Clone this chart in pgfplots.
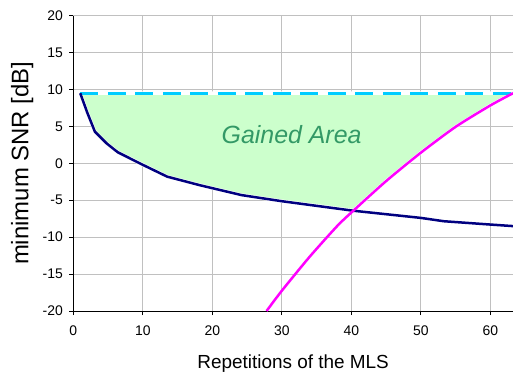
\documentclass[border=0pt]{standalone}
\usepackage{pgfplots}
\pgfplotsset{compat=1.18}
\usepackage{fontspec}
\setmainfont{Liberation Sans}
\definecolor{navyc}{HTML}{000080}
\definecolor{magc}{HTML}{FF00FF}
\definecolor{cyanc}{HTML}{00CCFF}
\definecolor{fillc}{HTML}{CCFFCC}
\definecolor{textg}{HTML}{339966}
\definecolor{gridc}{HTML}{C0C0C0}
\begin{document}
\begin{tikzpicture}
\begin{axis}[name=ax, scale only axis, width=439.7bp, height=295.3bp,
 xmin=0, xmax=63.25, ymin=-20, ymax=20,
 axis x line=bottom, axis y line=left,
 axis line style={-, black, line width=0.8bp},
 xtick={0,10,...,60}, xticklabels={0,10,20,30,40,50,60},
 ytick={-20,-15,...,20}, yticklabels={-20,-15,-10,-5,0,5,10,15,20},
 tick align=outside, tick style={black, line width=0.8bp}, major tick length=4bp,
 grid=major, major grid style={gridc, line width=0.8bp},
 tick label style={font=\fontsize{14}{16}\selectfont},
 xticklabel style={yshift=-7bp},
 yticklabel style={xshift=-3bp},
 xlabel={Repetitions of the MLS}, ylabel={minimum SNR [dB]},
 xlabel style={font=\fontsize{19}{22}\selectfont, at={(axis description cs:0.5,-0.194)}, anchor=base},
 ylabel style={font=\fontsize{24}{28}\selectfont, at={(axis description cs:-0.116,0.5)}, anchor=center},
]
% gained area
\addplot[fill=fillc, draw=white, line width=3.5bp] coordinates {
 (1,9.5) (2,6.9) (3.1,4.3) (4.8,2.7) (6.4,1.5) (10,-0.2) (13.5,-1.8) (18.2,-2.96)
 (24.2,-4.3) (30,-5.13) (40.3,-6.4) (45,-2.4) (50,1.45) (55,4.95)
 (60,7.85) (63.25,9.5)} -- cycle;
% threshold line
\addplot[cyanc, line width=2.7bp, dash pattern=on 18bp off 9.5bp] coordinates {(1,9.48) (63.25,9.48)};
% minimum SNR curve
\addplot[navyc, line width=2.5bp] coordinates {
 (1,9.5) (2,6.9) (3.1,4.3) (4.8,2.7) (6.4,1.5) (10,-0.2) (13.5,-1.8) (18.2,-2.96)
 (24.2,-4.3) (30,-5.13) (40.3,-6.42) (50,-7.39) (53.3,-7.84) (60,-8.29) (63.25,-8.5)};
% second curve
\addplot[magc, line width=2.5bp, smooth, tension=0.4] coordinates {
 (27.8,-20) (30,-17.25) (34,-12.65) (38,-8.45) (40.3,-6.4) (45,-2.4)
 (50,1.45) (55,4.95) (60,7.85) (63.25,9.5)};
\node[font=\fontsize{25}{30}\selectfont\itshape, text=textg, anchor=base] at (axis cs:31.4,2.7) {Gained Area};
\end{axis}
\pgfresetboundingbox
\path ([xshift=-73.3bp, yshift=-62bp]ax.south west) rectangle ([yshift=15.7bp]ax.north east);
\end{tikzpicture}
\end{document}
